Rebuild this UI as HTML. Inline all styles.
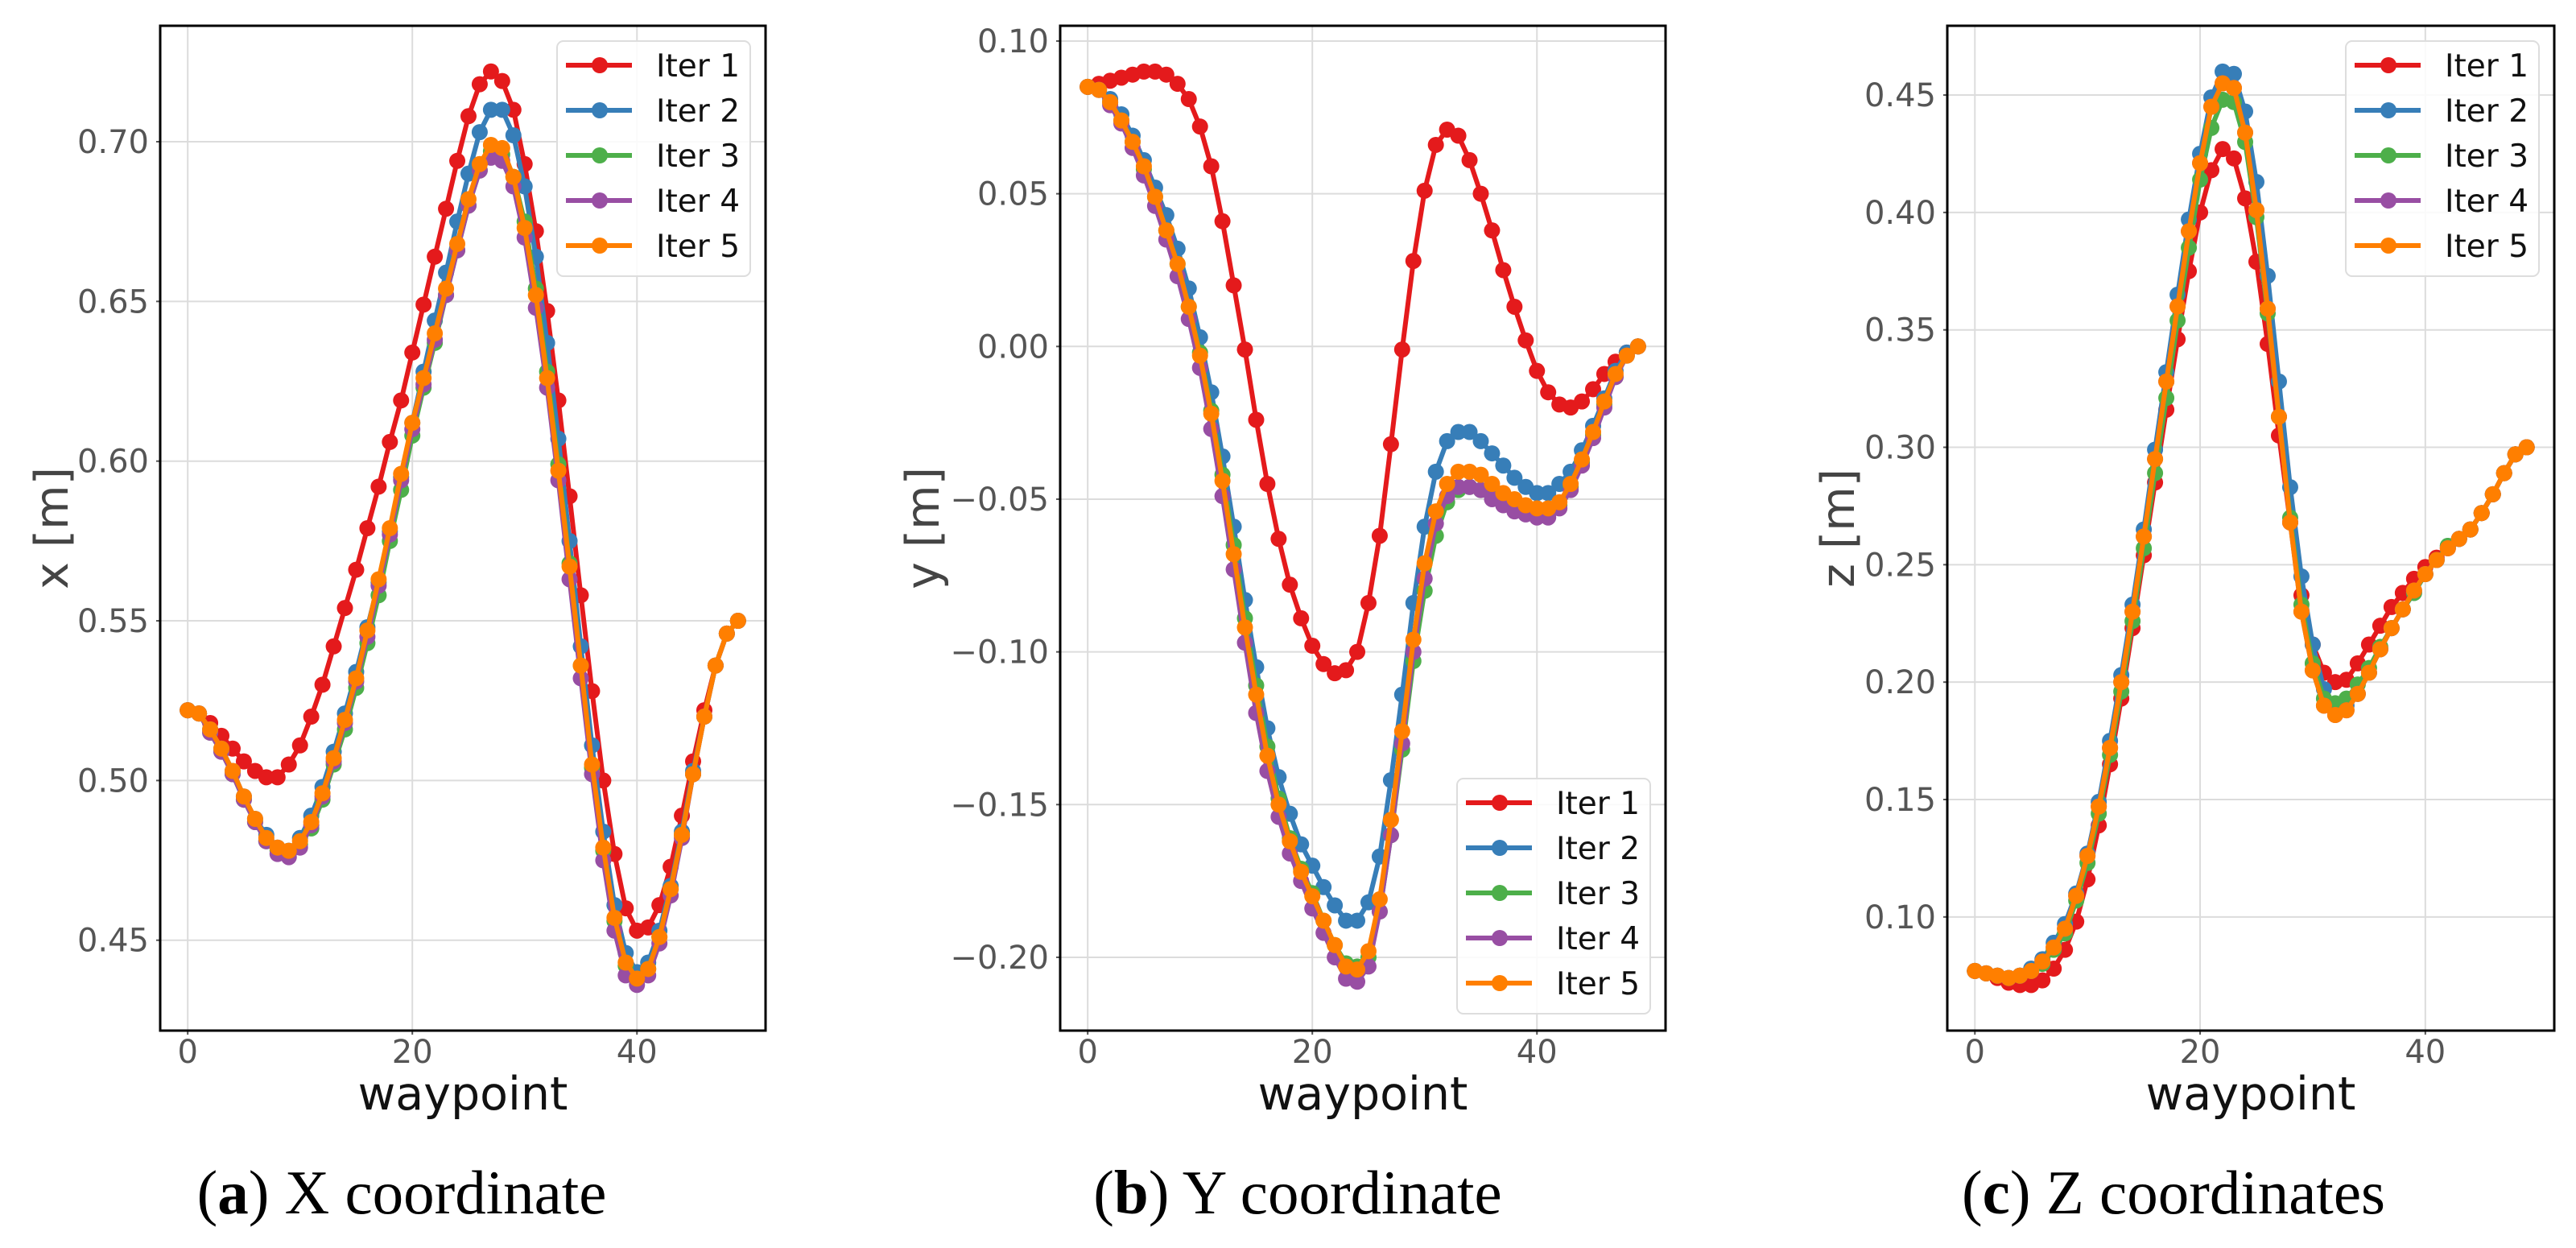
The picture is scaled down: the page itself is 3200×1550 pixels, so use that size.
<!DOCTYPE html>
<html><head><meta charset="utf-8"><style>
html,body{margin:0;padding:0;background:#fff;}
svg{display:block;}
</style></head><body>
<svg id="fig" width="3200" height="1550" xmlns="http://www.w3.org/2000/svg">
<rect width="3200" height="1550" fill="#fff"/>
<text x="499" y="1507" text-anchor="middle" font-family="Liberation Serif, serif" font-size="77"><tspan>(</tspan><tspan font-weight="bold">a</tspan><tspan>) X coordinate</tspan></text>
<text x="1612" y="1507" text-anchor="middle" font-family="Liberation Serif, serif" font-size="77"><tspan>(</tspan><tspan font-weight="bold">b</tspan><tspan>) Y coordinate</tspan></text>
<text x="2700" y="1507" text-anchor="middle" font-family="Liberation Serif, serif" font-size="77"><tspan>(</tspan><tspan font-weight="bold">c</tspan><tspan>) Z coordinates</tspan></text>
</svg>
<script>
const seriesNames = ["Iter 1","Iter 2","Iter 3","Iter 4","Iter 5"];
const seriesColors = ["#e41a1c","#377eb8","#4daf4a","#984ea3","#ff7f00"];
const xTicks = [0,20,40];

const xIter1 = [0.522,0.521,0.518,0.514,0.510,0.506,0.503,0.501,0.501,0.505,0.511,0.520,0.530,0.542,0.554,0.566,0.579,0.592,0.606,0.619,0.634,0.649,0.664,0.679,0.694,0.708,0.718,0.722,0.719,0.710,0.693,0.672,0.647,0.619,0.589,0.558,0.528,0.500,0.477,0.460,0.453,0.454,0.461,0.473,0.489,0.506,0.522,0.536,0.546,0.550];
const xIter2 = [0.522,0.521,0.516,0.510,0.503,0.495,0.488,0.483,0.479,0.478,0.482,0.489,0.498,0.509,0.521,0.534,0.548,0.562,0.578,0.595,0.612,0.628,0.644,0.659,0.675,0.690,0.703,0.710,0.710,0.702,0.686,0.664,0.637,0.607,0.575,0.542,0.511,0.484,0.461,0.446,0.440,0.443,0.453,0.467,0.484,0.503,0.520,0.536,0.546,0.550];
const xIter3 = [0.522,0.521,0.515,0.509,0.502,0.494,0.487,0.481,0.478,0.477,0.480,0.485,0.494,0.505,0.516,0.529,0.543,0.558,0.575,0.591,0.608,0.623,0.637,0.652,0.666,0.680,0.691,0.697,0.696,0.689,0.675,0.654,0.628,0.599,0.568,0.536,0.504,0.478,0.456,0.442,0.438,0.441,0.451,0.466,0.483,0.502,0.520,0.536,0.546,0.550];
const xIter4 = [0.522,0.521,0.515,0.509,0.502,0.494,0.487,0.481,0.477,0.476,0.479,0.486,0.495,0.506,0.518,0.531,0.545,0.561,0.577,0.594,0.610,0.624,0.638,0.652,0.666,0.680,0.691,0.695,0.694,0.686,0.670,0.648,0.623,0.594,0.563,0.532,0.502,0.475,0.453,0.439,0.436,0.439,0.449,0.464,0.482,0.502,0.520,0.536,0.546,0.550];
const xIter5 = [0.522,0.521,0.516,0.510,0.503,0.495,0.488,0.482,0.479,0.478,0.481,0.487,0.496,0.507,0.519,0.532,0.547,0.563,0.579,0.596,0.612,0.626,0.640,0.654,0.668,0.682,0.693,0.699,0.698,0.689,0.673,0.652,0.626,0.597,0.567,0.536,0.505,0.479,0.457,0.443,0.438,0.441,0.451,0.466,0.483,0.502,0.520,0.536,0.546,0.550];

const yIter1 = [0.085,0.086,0.087,0.088,0.089,0.090,0.090,0.089,0.086,0.081,0.072,0.059,0.041,0.020,-0.001,-0.024,-0.045,-0.063,-0.078,-0.089,-0.098,-0.104,-0.107,-0.106,-0.100,-0.084,-0.062,-0.032,-0.001,0.028,0.051,0.066,0.071,0.069,0.061,0.050,0.038,0.025,0.013,0.002,-0.008,-0.015,-0.019,-0.020,-0.018,-0.014,-0.009,-0.005,-0.002,0.000];
const yIter2 = [0.085,0.084,0.081,0.076,0.069,0.061,0.052,0.043,0.032,0.019,0.003,-0.015,-0.036,-0.059,-0.083,-0.105,-0.125,-0.141,-0.153,-0.163,-0.170,-0.177,-0.183,-0.188,-0.188,-0.182,-0.167,-0.142,-0.114,-0.084,-0.059,-0.041,-0.031,-0.028,-0.028,-0.031,-0.035,-0.039,-0.043,-0.046,-0.048,-0.048,-0.045,-0.041,-0.034,-0.026,-0.017,-0.008,-0.002,0.000];
const yIter3 = [0.085,0.084,0.080,0.074,0.067,0.058,0.049,0.038,0.027,0.013,-0.002,-0.021,-0.042,-0.065,-0.089,-0.111,-0.131,-0.148,-0.161,-0.171,-0.179,-0.188,-0.196,-0.202,-0.203,-0.200,-0.185,-0.160,-0.132,-0.103,-0.080,-0.062,-0.051,-0.047,-0.046,-0.047,-0.049,-0.051,-0.053,-0.054,-0.055,-0.055,-0.052,-0.046,-0.038,-0.029,-0.019,-0.010,-0.003,0.000];
const yIter4 = [0.085,0.084,0.079,0.073,0.065,0.056,0.046,0.035,0.023,0.009,-0.007,-0.027,-0.049,-0.073,-0.097,-0.120,-0.139,-0.154,-0.166,-0.175,-0.184,-0.192,-0.200,-0.207,-0.208,-0.203,-0.185,-0.160,-0.130,-0.100,-0.076,-0.058,-0.049,-0.046,-0.046,-0.047,-0.050,-0.052,-0.054,-0.055,-0.056,-0.056,-0.053,-0.047,-0.039,-0.030,-0.020,-0.010,-0.003,0.000];
const yIter5 = [0.085,0.084,0.080,0.074,0.067,0.059,0.049,0.038,0.027,0.013,-0.003,-0.022,-0.044,-0.068,-0.092,-0.114,-0.134,-0.150,-0.162,-0.172,-0.180,-0.188,-0.196,-0.203,-0.204,-0.198,-0.181,-0.155,-0.126,-0.096,-0.071,-0.054,-0.045,-0.041,-0.041,-0.042,-0.045,-0.048,-0.050,-0.052,-0.053,-0.053,-0.051,-0.045,-0.037,-0.028,-0.018,-0.009,-0.003,0.000];

const zIter1 = [0.077,0.076,0.074,0.072,0.071,0.071,0.073,0.078,0.086,0.098,0.116,0.139,0.165,0.193,0.223,0.254,0.285,0.316,0.346,0.375,0.400,0.418,0.427,0.423,0.406,0.379,0.344,0.305,0.268,0.237,0.216,0.204,0.200,0.201,0.208,0.216,0.224,0.232,0.238,0.244,0.249,0.253,0.257,0.261,0.265,0.272,0.280,0.289,0.297,0.300];
const zIter2 = [0.077,0.076,0.075,0.074,0.075,0.078,0.082,0.089,0.097,0.110,0.127,0.149,0.175,0.203,0.233,0.265,0.299,0.332,0.365,0.397,0.425,0.449,0.460,0.459,0.443,0.413,0.373,0.328,0.283,0.245,0.216,0.197,0.190,0.190,0.195,0.204,0.214,0.223,0.231,0.238,0.246,0.252,0.258,0.261,0.265,0.272,0.280,0.289,0.297,0.300];
const zIter3 = [0.077,0.076,0.075,0.074,0.075,0.077,0.080,0.086,0.093,0.107,0.123,0.144,0.169,0.196,0.226,0.257,0.289,0.321,0.354,0.385,0.414,0.436,0.448,0.447,0.430,0.398,0.357,0.313,0.270,0.233,0.208,0.193,0.191,0.193,0.199,0.206,0.215,0.223,0.231,0.238,0.246,0.252,0.258,0.261,0.265,0.272,0.280,0.289,0.297,0.300];
const zIter4 = [0.077,0.076,0.075,0.074,0.075,0.077,0.081,0.087,0.095,0.109,0.126,0.147,0.172,0.200,0.230,0.262,0.295,0.328,0.360,0.392,0.421,0.445,0.455,0.453,0.434,0.401,0.359,0.313,0.268,0.230,0.205,0.190,0.186,0.188,0.195,0.204,0.214,0.223,0.231,0.239,0.246,0.252,0.257,0.261,0.265,0.272,0.280,0.289,0.297,0.300];
const zIter5 = [0.077,0.076,0.075,0.074,0.075,0.077,0.081,0.087,0.095,0.109,0.126,0.147,0.172,0.200,0.230,0.262,0.295,0.328,0.360,0.392,0.421,0.445,0.455,0.453,0.434,0.401,0.359,0.313,0.268,0.230,0.205,0.190,0.186,0.188,0.195,0.204,0.214,0.223,0.231,0.239,0.246,0.252,0.257,0.261,0.265,0.272,0.280,0.289,0.297,0.300];

const xPanelTicks = ["0.45","0.50","0.55","0.60","0.65","0.70"];
const yPanelTicks = ["−0.20","−0.15","−0.10","−0.05","0.00","0.05","0.10"];
const zPanelTicks = ["0.10","0.15","0.20","0.25","0.30","0.35","0.40","0.45"];

const NS = "http://www.w3.org/2000/svg";
const svg = document.getElementById("fig");
function mk(tag, attrs, parent){const e=document.createElementNS(NS,tag);for(const k in attrs)e.setAttribute(k,attrs[k]);(parent||svg).appendChild(e);return e;}

function panel(cfg){
  const L=cfg.left,R=cfg.right,T=32,B=1280;
  const xmin=-2.45,xmax=51.45;
  const sx=v=>L+(v-xmin)/(xmax-xmin)*(R-L);
  const sy=v=>B-(v-cfg.ymin)/(cfg.ymax-cfg.ymin)*(B-T);
  const g=mk("g",{});
  
  
  xTicks.forEach(t=>{
    const l=mk("line",{x1:sx(t),x2:sx(t),y1:T,y2:B,stroke:"#dcdcdc","stroke-width":2},g);
    
    
    const tk=mk("text",{x:sx(t),y:1320,"text-anchor":"middle","font-family":"DejaVu Sans, Liberation Sans, sans-serif","font-size":40,fill:"#555"},g);
    tk.textContent=t;
    
    
    mk("line",{x1:sx(t),x2:sx(t),y1:B,y2:B+5,stroke:"#555","stroke-width":2},g);
  });
  cfg.ticks.forEach(s=>{
    const v=parseFloat(s.replace("−","-"));
    const l=mk("line",{x1:L,x2:R,y1:sy(v),y2:sy(v),stroke:"#dcdcdc","stroke-width":2},g);
    
    
    mk("line",{x1:L-5,x2:L,y1:sy(v),y2:sy(v),stroke:"#555","stroke-width":2},g);
    const tk=mk("text",{x:L-14,y:sy(v)+14,"text-anchor":"end","font-family":"DejaVu Sans, Liberation Sans, sans-serif","font-size":40,fill:"#555"},g);
    tk.textContent=s;
    
    
  });
  cfg.data.forEach((arr,i)=>{
    const sg=mk("g",{},g);
    
    
    const pts=arr.map((v,k)=>sx(k).toFixed(1)+","+sy(v).toFixed(1)).join(" ");
    mk("polyline",{points:pts,fill:"none",stroke:seriesColors[i],"stroke-width":6,"stroke-linejoin":"round"},sg);
    arr.forEach((v,k)=>{mk("circle",{cx:sx(k),cy:sy(v),r:10,fill:seriesColors[i]},sg);});
  });
  const fr=mk("rect",{x:L,y:T,width:R-L,height:B-T,fill:"none",stroke:"#000","stroke-width":3},g);
  
  
  const xl=mk("text",{x:(L+R)/2,y:1378,"text-anchor":"middle","font-family":"DejaVu Sans, Liberation Sans, sans-serif","font-size":57,fill:"#111"},g);
  xl.textContent="waypoint";
  
  
  const yl=mk("text",{x:0,y:0,"text-anchor":"middle","font-family":"DejaVu Sans, Liberation Sans, sans-serif","font-size":57,fill:"#444",transform:"translate("+cfg.ylabX+",656) rotate(-90)"},g);
  yl.textContent=cfg.ylabel;
  
  
  const lg=mk("g",{},g);
  
  
  const lx=R-259, ly=cfg.legTop;
  mk("rect",{x:lx,y:ly,width:240,height:292,rx:8,fill:"#fff","fill-opacity":0.85,stroke:"#ddd","stroke-width":2},lg);
  seriesNames.forEach((n,i)=>{
    const cy=ly+30+i*56;
    const e=mk("g",{},lg);
    
    
    mk("line",{x1:lx+11,x2:lx+93,y1:cy,y2:cy,stroke:seriesColors[i],"stroke-width":6},e);
    mk("circle",{cx:lx+53,cy:cy,r:10,fill:seriesColors[i]},e);
    const t=mk("text",{x:lx+123,y:cy+14,"font-family":"DejaVu Sans, Liberation Sans, sans-serif","font-size":39,fill:"#111"},e);
    t.textContent=n;
  });
}
panel({name:"x",left:199,right:951,ymin:0.4217,ymax:0.7363,ticks:xPanelTicks,data:[xIter1,xIter2,xIter3,xIter4,xIter5],ylabel:"x [m]",ylabX:84,legTop:51});
panel({name:"y",left:1317,right:2069,ymin:-0.2240,ymax:0.1050,ticks:yPanelTicks,data:[yIter1,yIter2,yIter3,yIter4,yIter5],ylabel:"y [m]",ylabX:1166,legTop:967});
panel({name:"z",left:2419,right:3173,ymin:0.0516,ymax:0.4795,ticks:zPanelTicks,data:[zIter1,zIter2,zIter3,zIter4,zIter5],ylabel:"z [m]",ylabX:2303,legTop:51});
</script>
</body></html>
